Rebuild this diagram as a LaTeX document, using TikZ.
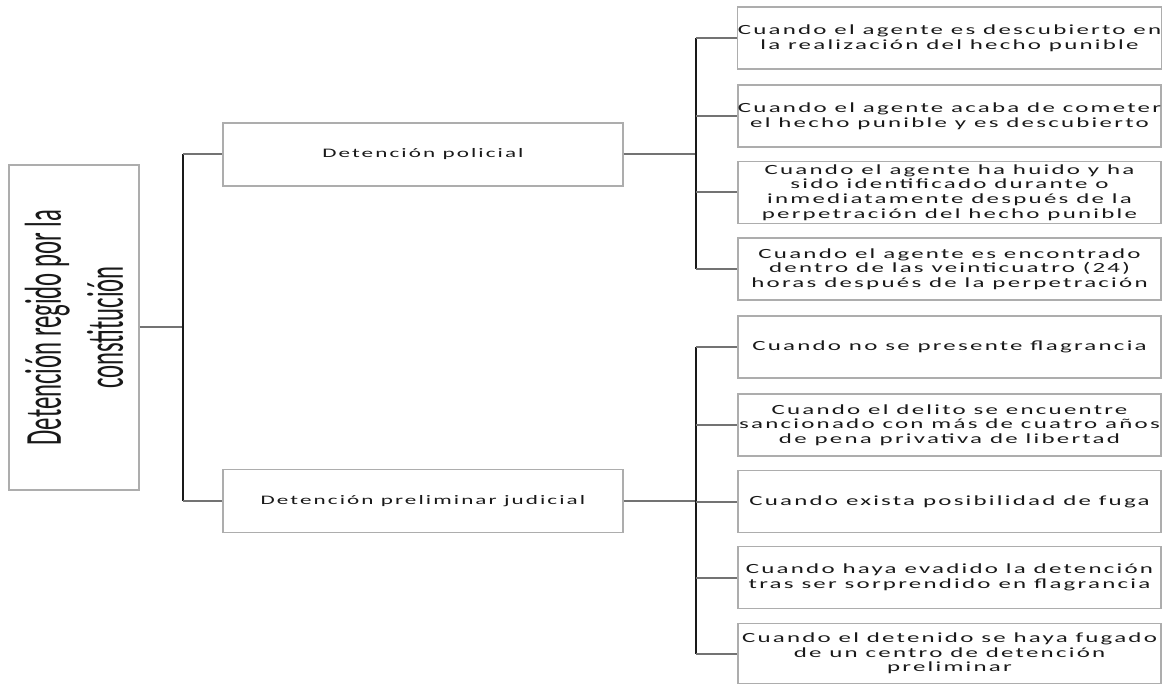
\documentclass[tikz,border=0pt]{standalone}
\usepackage{fontspec}
\usepackage{tikz}
\newfontfamily\boxfont{Carlito}[FakeStretch=1.78,LetterSpace=16]
\newfontfamily\rootfont{Carlito}[FakeStretch=0.475]

\begin{document}
\begin{tikzpicture}[x=1pt,y=-1pt,
  caja/.style={draw=black!32, line width=1.4pt, inner sep=0pt, align=center,
    text=black!90, font=\boxfont\fontsize{14}{14.6}\selectfont},
  hoja/.style={caja, minimum width=423, minimum height=62},
  rama/.style={caja, minimum width=400, minimum height=63,
    font=\boxfont\fontsize{13}{14.6}\selectfont},
  bus/.style={line width=2.2pt, black!90},
  brazo/.style={line width=2pt, black!55}]

\useasboundingbox (0,0) rectangle (1170,684);

% Nodo raiz
\node[draw=black!32, line width=1.4pt, minimum width=130, minimum height=325, inner sep=0pt]
  (raiz) at (74,327.5) {};
\node[rotate=90, align=center, text=black!90, font=\rootfont\fontsize{52}{62}\selectfont]
  (raiztxt) at (raiz.center) {Detención regido por la\\constitución};

% Tipos de detencion
\node[rama] (pol) at (423,154.5) {Detención policial};
\node[rama] (jud) at (423,501) {Detención preliminar judicial};

% Supuestos de la detencion policial
\node[hoja] (p1) at (949.5,38) {Cuando el agente es descubierto en\\la realización del hecho punible};
\node[hoja] (p2) at (949.5,116) {Cuando el agente acaba de cometer\\el hecho punible y es descubierto};
\node[hoja] (p3) at (949.5,192.5) {Cuando el agente ha huido y ha\\sido identificado durante o\\inmediatamente después de la\\perpetración del hecho punible};
\node[hoja] (p4) at (949.5,269) {Cuando el agente es encontrado\\dentro de las veinticuatro (24)\\horas después de la perpetración};

% Supuestos de la detencion preliminar judicial
\node[hoja] (j1) at (949.5,347) {Cuando no se presente flagrancia};
\node[hoja] (j2) at (949.5,425) {Cuando el delito se encuentre\\sancionado con más de cuatro años\\de pena privativa de libertad};
\node[hoja] (j3) at (949.5,501.5) {Cuando exista posibilidad de fuga};
\node[hoja] (j4) at (949.5,577.5) {Cuando haya evadido la detención\\tras ser sorprendido en flagrancia};
\node[hoja, minimum height=60] (j5) at (949.5,653.5) {Cuando el detenido se haya fugado\\de un centro de detención\\preliminar};

% Conectores
\coordinate (b0) at (183,0);
\coordinate (b1) at (696,0);

\draw[brazo] (raiz.east) -- (raiz.east -| b0);
\draw[bus] (pol.west -| b0) -- (jud.west -| b0);
\draw[brazo] (pol.west -| b0) -- (pol.west);
\draw[brazo] (jud.west -| b0) -- (jud.west);

\draw[brazo] (pol.east) -- (pol.east -| b1);
\draw[bus] (p1.west -| b1) -- (p4.west -| b1);
\foreach \i in {1,...,4}
  \draw[brazo] (p\i.west -| b1) -- (p\i.west);

\draw[brazo] (jud.east) -- (jud.east -| b1);
\draw[bus] (j1.west -| b1) -- (j5.west -| b1);
\foreach \i in {1,...,5}
  \draw[brazo] (j\i.west -| b1) -- (j\i.west);

\end{tikzpicture}
\end{document}
